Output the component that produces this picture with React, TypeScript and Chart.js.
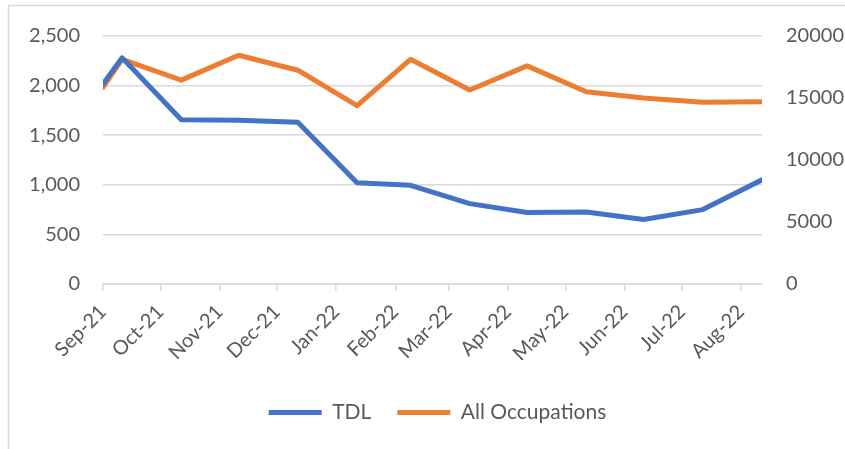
import React, { useEffect, useRef } from "react";
import { Chart, registerables } from "chart.js";

Chart.register(...registerables);

const pointDates = [
  "2021-09-01", "2021-09-11", "2021-10-12", "2021-11-11", "2021-12-12", "2022-01-12",
  "2022-02-09", "2022-03-12", "2022-04-11", "2022-05-12", "2022-06-11", "2022-07-12", "2022-08-12",
];
const tdlValues = [2015, 2280, 1655, 1650, 1630, 1020, 995, 810, 720, 725, 650, 750, 1050];
const allOccValues = [15850, 18120, 16440, 18450, 17240, 14380, 18120, 15640, 17590, 15500, 15000, 14650, 14700];

const monthStarts = [
  "2021-09-01", "2021-10-01", "2021-11-01", "2021-12-01", "2022-01-01", "2022-02-01",
  "2022-03-01", "2022-04-01", "2022-05-01", "2022-06-01", "2022-07-01", "2022-08-01",
];
const monthLabels = [
  "Sep-21", "Oct-21", "Nov-21", "Dec-21", "Jan-22", "Feb-22",
  "Mar-22", "Apr-22", "May-22", "Jun-22", "Jul-22", "Aug-22",
];
const axisEnd = "2022-08-12";

const leftTicks = [0, 500, 1000, 1500, 2000, 2500];
const rightTicks = [0, 5000, 10000, 15000, 20000];

const DAY = 86400000;
const origin = Date.parse(pointDates[0] + "T00:00:00Z");
const toDay = (s: string) => Math.round((Date.parse(s + "T00:00:00Z") - origin) / DAY);

const FONT = "Lato, 'Open Sans', sans-serif";
const FS = 20;
const LEG_FS = 21;
const TEXT = "#595959";
const GRID = "#d9d9d9";
const LEG_PAD = 26;

const framePlugin = {
  id: "frame",
  beforeDraw(chart: any) {
    const ctx = chart.ctx;
    ctx.save();
    ctx.strokeStyle = GRID;
    ctx.lineWidth = 1.5;
    ctx.beginPath();
    ctx.moveTo(8.5, chart.height);
    ctx.lineTo(8.5, 5.5);
    ctx.lineTo(chart.width, 5.5);
    ctx.stroke();
    ctx.restore();
  },
};

const legendShift = {
  id: "legendShift",
  afterLayout(chart: any) {
    const lg = chart.legend;
    if (lg) {
      lg.left += 15;
      lg.right += 15;
    }
  },
};

export default function App() {
  const ref = useRef<HTMLCanvasElement | null>(null);

  useEffect(() => {
    if (!ref.current) return;
    const monthDays = monthStarts.map(toDay);
    const chart = new Chart(ref.current, {
      type: "line",
      data: {
        datasets: [
          {
            label: "TDL",
            data: pointDates.map((d, i) => ({ x: toDay(d), y: tdlValues[i] })),
            borderColor: "#4472C4",
            backgroundColor: "#4472C4",
            borderWidth: 5,
            borderCapStyle: "round",
            borderJoinStyle: "round",
            pointRadius: 0,
            tension: 0,
            yAxisID: "y",
          },
          {
            label: "All Occupations",
            data: pointDates.map((d, i) => ({ x: toDay(d), y: allOccValues[i] })),
            borderColor: "#ED7D31",
            backgroundColor: "#ED7D31",
            borderWidth: 5,
            borderCapStyle: "round",
            borderJoinStyle: "round",
            pointRadius: 0,
            tension: 0,
            yAxisID: "y1",
          },
        ],
      },
      options: {
        animation: false,
        responsive: false,
        maintainAspectRatio: false,
        layout: { padding: { top: 35, left: 0, right: 0, bottom: 16 } },
        plugins: {
          tooltip: { enabled: false },
          legend: {
            position: "bottom",
            labels: {
              usePointStyle: true,
              pointStyle: "line",
              pointStyleWidth: 53,
              boxHeight: LEG_FS,
              padding: LEG_PAD,
              color: TEXT,
              font: { family: FONT, size: LEG_FS },
            },
          },
        },
        scales: {
          x: {
            type: "linear",
            min: 0,
            max: toDay(axisEnd),
            afterBuildTicks: (scale: any) => {
              scale.ticks = monthDays.map((v) => ({ value: v }));
            },
            afterFit: (scale: any) => {
              scale.height = 449 - 16 - (LEG_FS + LEG_PAD + 10) - 284;
            },
            ticks: {
              autoSkip: false,
              maxRotation: 45,
              minRotation: 45,
              padding: 9,
              color: TEXT,
              font: { family: FONT, size: FS },
              callback: (v: any) => {
                const i = monthDays.indexOf(v);
                return i >= 0 ? monthLabels[i] : "";
              },
            },
            grid: {
              drawOnChartArea: false,
              drawTicks: true,
              tickLength: 7,
              color: GRID,
              lineWidth: 1.5,
            },
            border: { display: true, color: GRID, width: 1.5 },
          },
          y: {
            position: "left",
            min: 0,
            max: 2500,
            afterBuildTicks: (scale: any) => {
              scale.ticks = leftTicks.map((v) => ({ value: v }));
            },
            afterFit: (scale: any) => {
              scale.width = 103;
            },
            ticks: {
              padding: 23,
              color: TEXT,
              font: { family: FONT, size: FS },
              callback: (v: any) => Number(v).toLocaleString("en-US"),
            },
            grid: { color: GRID, lineWidth: 1.5, drawTicks: false },
            border: { display: false },
          },
          y1: {
            position: "right",
            min: 0,
            max: 20000,
            afterBuildTicks: (scale: any) => {
              scale.ticks = rightTicks.map((v) => ({ value: v }));
            },
            afterFit: (scale: any) => {
              scale.width = 83;
            },
            ticks: {
              padding: 24,
              color: TEXT,
              font: { family: FONT, size: FS },
              callback: (v: any) => String(v),
            },
            grid: { display: false, drawTicks: false },
            border: { display: false },
          },
        },
      },
      plugins: [framePlugin, legendShift],
    } as any);
    return () => chart.destroy();
  }, []);

  return (
    <div style={{ position: "fixed", left: 0, top: 0, width: 845, height: 449, background: "#fff" }}>
      <canvas ref={ref} width={845} height={449} style={{ display: "block" }} />
    </div>
  );
}
